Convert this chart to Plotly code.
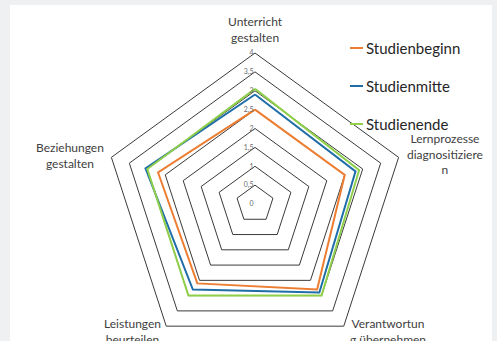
import plotly.graph_objects as go

# Competence dimensions (clockwise from the top)
dimensions = [
    "Unterricht gestalten",
    "Lernprozesse diagnositizieren",
    "Verantwortung übernehmen",
    "Leistungen beurteilen",
    "Beziehungen gestalten",
]
# Label text as it wraps around the chart
dimension_labels = [
    "Unterricht<br>gestalten",
    "Lernprozesse<br>diagnositiziere<br>n",
    "Verantwortun<br>g übernehmen",
    "Leistungen<br>beurteilen",
    "Beziehungen<br>gestalten",
]

series_names = ["Studienbeginn", "Studienmitte", "Studienende"]
studienbeginn = [2.5, 2.5, 2.8, 2.6, 2.7]
studienmitte = [2.9, 2.8, 2.9, 2.8, 3.05]
studienende = [3.05, 2.9, 3.0, 3.0, 3.0]
series_values = [studienbeginn, studienmitte, studienende]
series_colors = ["#ED7D31", "#1F6EA8", "#8FCF4A"]

radial_ticks = [0, 0.5, 1, 1.5, 2, 2.5, 3, 3.5, 4]
radial_ticktext = ["0", "0,5", "1", "1,5", "2", "2,5", "3", "3,5", "4"]

W, H = 497, 380
FONT = "Lato, 'Open Sans', sans-serif"
TEXT = "#404040"


def px(x):
    return x / W


def py(y):
    return 1 - y / H


fig = go.Figure()
for name, vals, col in zip(series_names, series_values, series_colors):
    fig.add_trace(go.Scatterpolar(
        r=vals + vals[:1],
        theta=dimensions + dimensions[:1],
        mode="lines",
        name=name,
        line=dict(color=col, width=2),
        showlegend=False,
    ))

fig.update_layout(
    width=W,
    height=H,
    margin=dict(l=0, r=0, t=0, b=0),
    paper_bgcolor="#EEF0F2",
    font=dict(family=FONT, color=TEXT),
    polar=dict(
        domain=dict(x=[px(104), px(406)], y=[py(355), py(53)]),
        bgcolor="rgba(0,0,0,0)",
        gridshape="linear",
        radialaxis=dict(
            range=[0, 4],
            tickvals=radial_ticks,
            ticktext=radial_ticktext,
            angle=90,
            side="counterclockwise",
            showline=False,
            ticks="",
            showgrid=True,
            gridcolor="#3a3a3a",
            gridwidth=1,
            tickfont=dict(size=7, color="#6b6b6b"),
            tickangle=90,
        ),
        angularaxis=dict(
            rotation=90,
            direction="clockwise",
            showgrid=False,
            showline=True,
            linecolor="#3a3a3a",
            linewidth=1,
            ticks="",
            showticklabels=False,
        ),
    ),
)

# white chart panel
fig.add_shape(type="rect", xref="paper", yref="paper",
              x0=px(10), x1=px(492), y0=0, y1=py(5),
              fillcolor="white", line_width=0, layer="below")

# category labels around the pentagon
label_pos = [
    (255, 29),
    (445, 154),
    (388, 331),
    (132, 331),
    (70, 155),
]
for text, (x, y) in zip(dimension_labels, label_pos):
    fig.add_annotation(x=px(x), y=py(y), xref="paper", yref="paper",
                       text=text, showarrow=False, align="center",
                       xanchor="center", yanchor="middle",
                       font=dict(size=12, color=TEXT, family=FONT))

# legend entries: short coloured line followed by the series name
legend_y = [48, 86, 124]
for name, col, y in zip(series_names, series_colors, legend_y):
    fig.add_shape(type="line", xref="paper", yref="paper",
                  x0=px(350), x1=px(363), y0=py(y), y1=py(y),
                  line=dict(color=col, width=2))
    fig.add_annotation(
        x=px(364), y=py(y), xref="paper", yref="paper",
        text=name, showarrow=False, xanchor="left", yanchor="middle",
        font=dict(size=15, color="#262626", family=FONT))

fig.write_html(
    "out.html",
    post_script="document.documentElement.style.overflow='hidden';"
                "document.body.style.overflow='hidden';",
)
